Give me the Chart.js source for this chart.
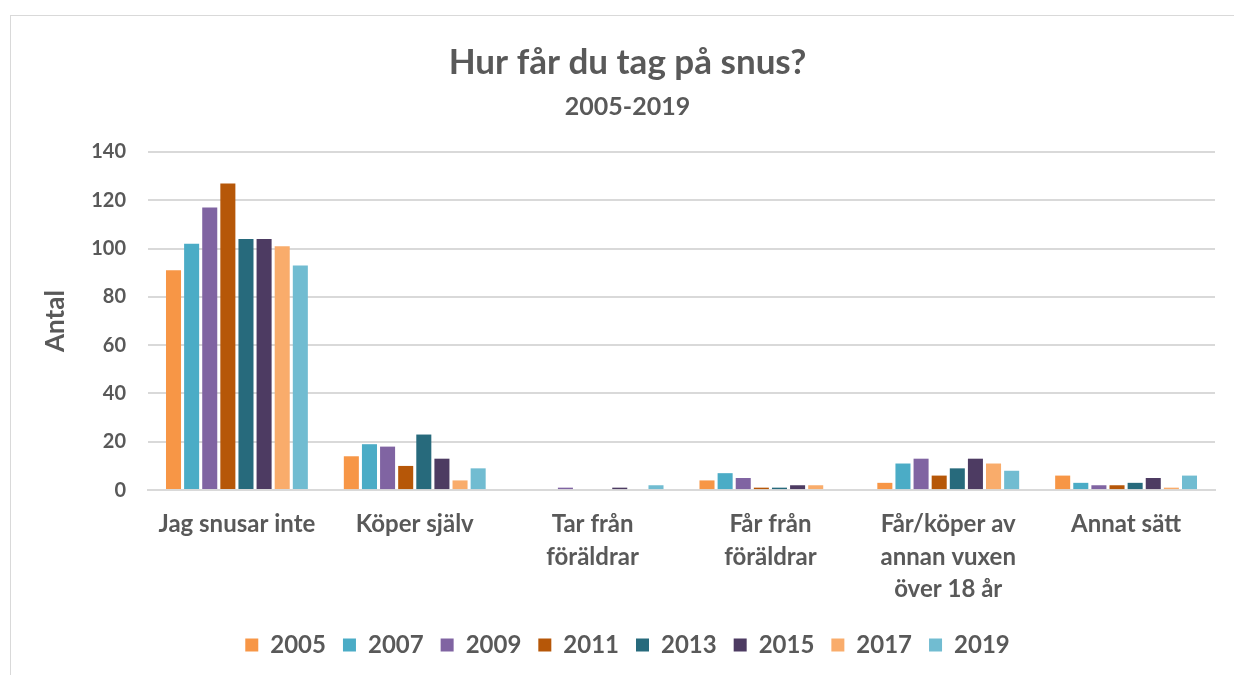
<!DOCTYPE html>
<html>
<head>
<meta charset="utf-8">
<script src="https://cdn.jsdelivr.net/npm/chart.js@4/dist/chart.umd.min.js"></script>
<style>
  body { margin: 0; background: #fff; }
  #wrap { position: relative; width: 1234px; height: 675px; }
  #frame { position: absolute; left: 10px; top: 15px; width: 1240px; height: 700px; border: 1px solid #D9D9D9; box-sizing: border-box; }
  #holder { position: absolute; left: 0; top: 0; width: 1234px; height: 675px; }
</style>
</head>
<body>
<div id="wrap">
  <div id="frame"></div>
  <div id="holder"><canvas id="myChart"></canvas></div>
</div>
<script>
// categories (x axis)
var categories = [
  'Jag snusar inte',
  'Köper själv',
  ['Tar från', 'föräldrar'],
  ['Får från', 'föräldrar'],
  ['Får/köper av', 'annan vuxen', 'över 18 år'],
  'Annat sätt'
];

var years = ['2005', '2007', '2009', '2011', '2013', '2015', '2017', '2019'];

// values per year, one per category
var v2005 = [91, 14, 0, 4, 3, 6];
var v2007 = [102, 19, 0, 7, 11, 3];
var v2009 = [117, 18, 1, 5, 13, 2];
var v2011 = [127, 10, 0, 1, 6, 2];
var v2013 = [104, 23, 0, 1, 9, 3];
var v2015 = [104, 13, 1, 2, 13, 5];
var v2017 = [101, 4, 0, 2, 11, 1];
var v2019 = [93, 9, 2, 0, 8, 6];

var yTicks = [0, 20, 40, 60, 80, 100, 120, 140];

var colors = ['#F79646', '#4BACC6', '#8064A2', '#B65708', '#276A7C', '#4D3B62', '#F9AC6B', '#71BCD1'];
var allValues = [v2005, v2007, v2009, v2011, v2013, v2015, v2017, v2019];

var textColor = '#595959';
var fontFamily = 'Lato, "Open Sans", sans-serif';

var datasets = [];
for (var i = 0; i < years.length; i++) {
  datasets.push({
    label: years[i],
    data: allValues[i],
    backgroundColor: colors[i],
    borderWidth: 0,
    categoryPercentage: 0.815,
    barPercentage: 0.83
  });
}

Chart.defaults.font.family = fontFamily;
Chart.defaults.color = textColor;

var ctx = document.getElementById('myChart').getContext('2d');
var myChart = new Chart(ctx, {
  type: 'bar',
  data: { labels: categories, datasets: datasets },
  options: {
    responsive: true,
    maintainAspectRatio: false,
    animation: false,
    layout: { padding: { left: 40, right: 19, top: 42, bottom: 8 } },
    plugins: {
      title: {
        display: true,
        text: 'Hur får du tag på snus?',
        color: textColor,
        font: { size: 35, weight: 'bold' },
        padding: { top: 0, bottom: 8 }
      },
      subtitle: {
        display: true,
        text: '2005-2019',
        color: textColor,
        font: { size: 25, weight: 'bold' },
        padding: { top: 0, bottom: 30 }
      },
      legend: {
        position: 'bottom',
        labels: {
          color: textColor,
          boxWidth: 13,
          boxHeight: 13,
          padding: 17,
          font: { size: 24, weight: 'bold' }
        }
      },
      tooltip: { enabled: false }
    },
    scales: {
      x: {
        grid: { display: false },
        border: { display: true, color: '#D9D9D9', width: 2 },
        ticks: {
          color: textColor,
          maxRotation: 0,
          autoSkip: false,
          padding: 10,
          font: { size: 24, weight: 'bold', lineHeight: 1.36 }
        }
      },
      y: {
        min: 0,
        max: 140,
        afterBuildTicks: function (axis) {
          axis.ticks = yTicks.map(function (t) { return { value: t }; });
        },
        afterFit: function (axis) { axis.width = 108; },
        grid: { color: '#D9D9D9', lineWidth: 2, drawTicks: false },
        border: { display: false },
        title: {
          display: true,
          text: 'Antal',
          color: textColor,
          font: { size: 26, weight: 'bold' },
          padding: { top: 0, bottom: 14 }
        },
        ticks: {
          color: textColor,
          padding: 22,
          font: { size: 20, weight: 'bold' }
        }
      }
    }
  }
});
</script>
</body>
</html>
